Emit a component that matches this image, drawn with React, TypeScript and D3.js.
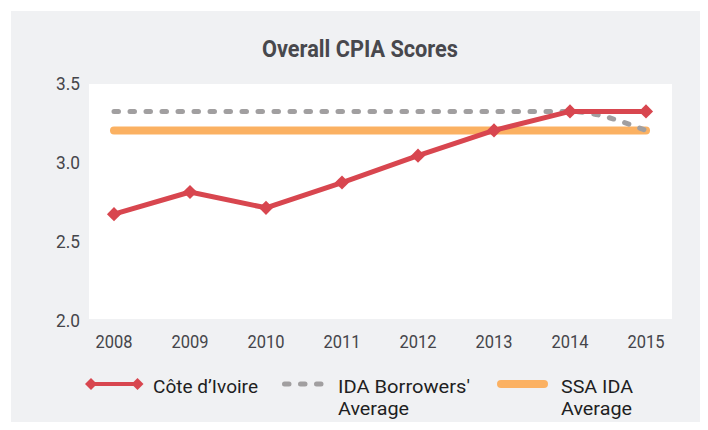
import React from "react";
import * as d3 from "d3";

const years = ["2008", "2009", "2010", "2011", "2012", "2013", "2014", "2015"];
const coteDIvoire = [2.67, 2.81, 2.71, 2.87, 3.04, 3.2, 3.32, 3.32];
const idaBorrowers = [3.32, 3.32, 3.32, 3.32, 3.32, 3.32, 3.32, 3.2];
const ssaIda = [3.2, 3.2, 3.2, 3.2, 3.2, 3.2, 3.2, 3.2];
const yTicks = [2.0, 2.5, 3.0, 3.5];
const title = "Overall CPIA Scores";

const RED = "#d8464f";
const GRAY = "#a19fa0";
const ORANGE = "#fbb162";
const BG = "#f0f1f3";
const FONT = "Roboto, 'Noto Sans', sans-serif";

export default function App() {
  const W = 708;
  const H = 430;
  const x = d3.scalePoint<string>().domain(years).range([114, 646]);
  const y = d3.scaleLinear().domain([2.0, 3.5]).range([320, 83]);

  const straight = d3
    .line<number>()
    .x((_, i) => x(years[i]) as number)
    .y((d) => y(d));
  const smooth = d3
    .line<number>()
    .x((_, i) => x(years[i]) as number)
    .y((d) => y(d))
    .curve(d3.curveMonotoneX);

  const diamond = d3.symbol().type(d3.symbolSquare).size(100)() as string;
  const diamondSmall = d3.symbol().type(d3.symbolSquare).size(72)() as string;

  const legendFont = 18.5;
  const l1 = 392.5;
  const l2 = 414.5;
  const dash = "4.5 11.5";

  return (
    <div style={{ margin: -8 }}>
      <svg width={W} height={H} style={{ display: "block" }}>
        <rect x={0} y={0} width={W} height={H} fill="#ffffff" />
        <rect x={11} y={11} width={W - 11} height={H - 11} fill={BG} />
        <rect x={89} y={84} width={583} height={235} fill="#ffffff" />

        <text
          x={360}
          y={57}
          textAnchor="middle"
          fontFamily={FONT}
          fontWeight="bold"
          fontSize={23}
          fill="#48484d"
          textLength={196}
          lengthAdjust="spacingAndGlyphs"
        >
          {title}
        </text>

        {yTicks.map((t) => (
          <text
            key={t}
            x={80}
            y={y(t) + 6.5}
            textAnchor="end"
            fontFamily={FONT}
            fontSize={19}
            fill="#45454a"
            textLength={24}
            lengthAdjust="spacingAndGlyphs"
          >
            {t.toFixed(1)}
          </text>
        ))}

        {years.map((yr) => (
          <text
            key={yr}
            x={x(yr) as number}
            y={348}
            textAnchor="middle"
            fontFamily={FONT}
            fontSize={19}
            fill="#45454a"
            textLength={37}
            lengthAdjust="spacingAndGlyphs"
          >
            {yr}
          </text>
        ))}

        <path
          d={straight(ssaIda) as string}
          fill="none"
          stroke={ORANGE}
          strokeWidth={8}
          strokeLinecap="round"
        />
        <path
          d={smooth(idaBorrowers) as string}
          fill="none"
          stroke={GRAY}
          strokeWidth={5}
          strokeLinecap="round"
          strokeDasharray={dash}
        />
        <path
          d={straight(coteDIvoire) as string}
          fill="none"
          stroke={RED}
          strokeWidth={5}
          strokeLinejoin="round"
        />
        {coteDIvoire.map((v, i) => (
          <path
            key={i}
            d={diamond}
            transform={`translate(${x(years[i])},${y(v)}) rotate(45)`}
            fill={RED}
          />
        ))}

        {/* Legend */}
        <g>
          <line x1={91} x2={137.5} y1={384} y2={384} stroke={RED} strokeWidth={4} />
          <path d={diamondSmall} transform="translate(91,384) rotate(45)" fill={RED} />
          <path d={diamondSmall} transform="translate(137.5,384) rotate(45)" fill={RED} />
          <text
            x={153}
            y={l1}
            fontFamily={FONT}
            fontSize={legendFont}
            fill="#1e1e22"
            textLength={105}
            lengthAdjust="spacingAndGlyphs"
          >
            Côte d’Ivoire
          </text>

          <line
            x1={284.5}
            x2={321}
            y1={384}
            y2={384}
            stroke={GRAY}
            strokeWidth={5}
            strokeLinecap="round"
            strokeDasharray={dash}
          />
          <text
            x={338}
            y={l1}
            fontFamily={FONT}
            fontSize={legendFont}
            fill="#1e1e22"
            textLength={132}
            lengthAdjust="spacingAndGlyphs"
          >
            IDA Borrowers'
          </text>
          <text
            x={338}
            y={l2}
            fontFamily={FONT}
            fontSize={legendFont}
            fill="#1e1e22"
            textLength={71}
            lengthAdjust="spacingAndGlyphs"
          >
            Average
          </text>

          <line
            x1={501}
            x2={544}
            y1={384}
            y2={384}
            stroke={ORANGE}
            strokeWidth={8}
            strokeLinecap="round"
          />
          <text
            x={561}
            y={l1}
            fontFamily={FONT}
            fontSize={legendFont}
            fill="#1e1e22"
            textLength={72}
            lengthAdjust="spacingAndGlyphs"
          >
            SSA IDA
          </text>
          <text
            x={561}
            y={l2}
            fontFamily={FONT}
            fontSize={legendFont}
            fill="#1e1e22"
            textLength={71}
            lengthAdjust="spacingAndGlyphs"
          >
            Average
          </text>
        </g>
      </svg>
    </div>
  );
}
